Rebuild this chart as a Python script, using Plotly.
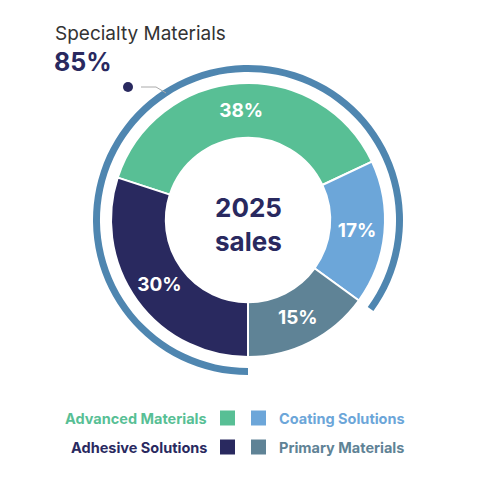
import plotly.graph_objects as go

# データ
categories = ["Advanced Materials", "Coating Solutions", "Primary Materials", "Adhesive Solutions"]
shares = [38, 17, 15, 30]
colors = ["#58bf95", "#6ca6d9", "#5f8396", "#29295f"]

specialty_label = "Specialty Materials"
specialty_share = 85
center_text = ["2025", "sales"]

legend_order = ["Advanced Materials", "Coating Solutions", "Adhesive Solutions", "Primary Materials"]

W = H = 486
OFF = 8  # ページ本体の余白（body margin）
FONT = "Inter"
NAVY = "#29295f"


def px(x, y):
    # 画面ピクセル座標 -> paper座標
    return (x - OFF) / W, 1 - (y - OFF) / H


def dom(cx, cy, r):
    x0, y1 = px(cx - r, cy - r)
    x1, y0 = px(cx + r, cy + r)
    return dict(x=[x0, x1], y=[y0, y1])


def note(x, y, text, size, color, anchor="left", bold=False):
    xx, yy = px(x, y)
    return dict(
        x=xx, y=yy, xref="paper", yref="paper", showarrow=False,
        xanchor=anchor, yanchor="middle", text=text,
        font=dict(family=FONT, size=size, color=color, weight="bold" if bold else "normal"),
    )


fig = go.Figure()

# 外側のアーク（Specialty Materials）
fig.add_trace(go.Pie(
    labels=[specialty_label, "other"],
    values=[specialty_share, 100 - specialty_share],
    hole=0.955,
    sort=False,
    direction="clockwise",
    rotation=180,
    marker=dict(colors=["#4f86b0", "rgba(0,0,0,0)"], line=dict(width=0)),
    textinfo="none",
    hoverinfo="skip",
    showlegend=False,
    domain=dom(248, 220, 155),
))

# ドーナツ本体
fig.add_trace(go.Pie(
    labels=categories,
    values=shares,
    hole=0.6,
    sort=False,
    direction="clockwise",
    rotation=288,
    marker=dict(colors=colors, line=dict(color="white", width=2)),
    textinfo="percent",
    textposition="inside",
    insidetextorientation="horizontal",
    textfont=dict(family=FONT, size=19, color="white", weight="bold"),
    showlegend=False,
    domain=dom(248, 220, 137),
))

annotations = []
shapes = []

# 中央テキスト
annotations.append(note(248, 224, "<br>".join(center_text), 26, NAVY, anchor="center", bold=True))

# 左上のラベル
annotations.append(note(53, 34, specialty_label, 19, "#333333"))
annotations.append(note(52, 62, f"{specialty_share}%", 25, NAVY, bold=True))

# ドットとリーダー線
a, b = px(123, 82)
c, d = px(133, 92)
shapes.append(dict(type="circle", xref="paper", yref="paper", x0=a, y0=d, x1=c, y1=b,
                   fillcolor=NAVY, line=dict(width=0)))
p1 = px(141, 87)
p2 = px(156, 87)
p3 = px(166, 93)
shapes.append(dict(type="path", xref="paper", yref="paper",
                   path=f"M {p1[0]} {p1[1]} L {p2[0]} {p2[1]} L {p3[0]} {p3[1]}",
                   line=dict(color="#aaaaaa", width=1)))

# 凡例（2x2）
for k, name in enumerate(legend_order):
    i = categories.index(name)
    row, col = divmod(k, 2)
    yy = 418 + row * 29
    if col == 0:
        sx0, sx1 = 220, 235
        tx, anchor = 209, "right"
    else:
        sx0, sx1 = 251, 266
        tx, anchor = 277, "left"
    q0 = px(sx0, yy - 7.5)
    q1 = px(sx1, yy + 7.5)
    shapes.append(dict(type="rect", xref="paper", yref="paper",
                       x0=q0[0], y0=q1[1], x1=q1[0], y1=q0[1],
                       fillcolor=colors[i], line=dict(width=0)))
    annotations.append(note(tx, yy, name, 14.5, colors[i], anchor=anchor, bold=True))

fig.update_layout(
    width=W, height=H,
    margin=dict(l=0, r=0, t=0, b=0),
    paper_bgcolor="white",
    plot_bgcolor="white",
    showlegend=False,
    annotations=annotations,
    shapes=shapes,
)

fig.write_html("out.html")
